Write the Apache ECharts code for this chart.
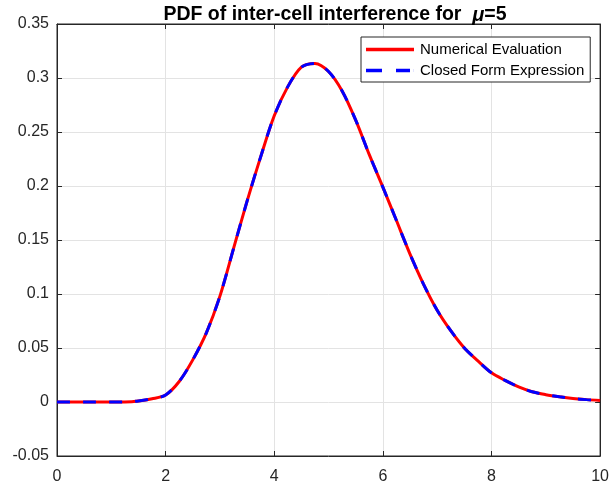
<!DOCTYPE html>
<html>
<head>
<meta charset="utf-8">
<script src="https://cdn.jsdelivr.net/npm/echarts@6/dist/echarts.min.js"></script>
<style>html,body{margin:0;padding:0;background:#fff}#c{width:612px;height:489px}</style>
</head>
<body>
<div id="c"></div>
<script>
const xValues = [0, 0.5, 1, 1.25, 1.5, 1.75, 2, 2.25, 2.5, 2.75, 3, 3.25, 3.5, 3.75, 4, 4.25, 4.5, 4.75, 5, 5.25, 5.5, 5.75, 6, 6.25, 6.5, 6.75, 7, 7.25, 7.5, 7.75, 8, 8.25, 8.5, 8.75, 9, 9.25, 9.5, 9.75, 10];
const numericalY = [0, 0, 0, 0.0001, 0.001, 0.003, 0.0065, 0.019, 0.039, 0.064, 0.098, 0.142, 0.186, 0.227, 0.265, 0.292, 0.310, 0.3135, 0.306, 0.288, 0.261, 0.229, 0.199, 0.168, 0.137, 0.109, 0.085, 0.066, 0.050, 0.038, 0.027, 0.020, 0.014, 0.0095, 0.0068, 0.0048, 0.0032, 0.0022, 0.0015];
const closedFormY = [0, 0, 0, 0.0001, 0.001, 0.003, 0.0065, 0.019, 0.039, 0.064, 0.098, 0.142, 0.186, 0.227, 0.265, 0.292, 0.310, 0.3135, 0.306, 0.288, 0.261, 0.229, 0.199, 0.168, 0.137, 0.109, 0.085, 0.066, 0.050, 0.038, 0.027, 0.020, 0.014, 0.0095, 0.0068, 0.0048, 0.0032, 0.0022, 0.0015];
const seriesNames = ['Numerical Evaluation', 'Closed Form Expression'];

const FONT = '"Liberation Sans", Arial, Helvetica, sans-serif';
const AX = '#262626';
const chart = echarts.init(document.getElementById('c'), null, {renderer: 'canvas'});
const pair = (xs, ys) => xs.map((x, i) => [x, ys[i]]);
const hiddenAxis = {
  axisLine: {show: true, onZero: false, lineStyle: {color: AX, width: 1}},
  axisTick: {show: true, inside: true, length: 5, lineStyle: {color: AX}},
  axisLabel: {show: false},
  splitLine: {show: false}
};
chart.setOption({
  animation: false,
  backgroundColor: '#fff',
  title: {
    text: '{b|PDF of inter-cell interference for  }{i|μ}{b|=5}',
    left: 330, textAlign: 'center', top: 0,
    textStyle: {
      rich: {
        b: {fontFamily: FONT, fontWeight: 'bold', fontSize: 19.5, color: '#000'},
        i: {fontFamily: FONT, fontStyle: 'italic', fontSize: 20, color: '#000'}
      }
    }
  },
  legend: {
    orient: 'vertical', left: 361, top: 37,
    backgroundColor: '#fff', borderColor: AX, borderWidth: 1,
    padding: [5, 6, 4, 5],
    itemWidth: 48, itemHeight: 16, itemGap: 6,
    textStyle: {fontFamily: FONT, fontSize: 15, color: '#000', padding: [0, 0, 0, 1]},
    data: [
      {name: seriesNames[0], icon: 'path://M0,0H48V3.5H0Z', itemStyle: {color: '#ff0000'}},
      {name: seriesNames[1], icon: 'path://M0,0H16V3.5H0Z M30,0H44V3.5H30Z M47.9,0H48V3.5H47.9Z', itemStyle: {color: '#0000ff'}}
    ]
  },
  grid: {left: 57, right: 8, top: 24, bottom: 33, containLabel: false,
    show: true, borderColor: AX, borderWidth: 1, backgroundColor: 'transparent'},
  xAxis: [{
    type: 'value', min: 0, max: 10, interval: 2,
    axisLine: {show: true, onZero: false, lineStyle: {color: AX, width: 1}},
    axisTick: {show: true, inside: true, length: 5, lineStyle: {color: AX}},
    axisLabel: {fontFamily: FONT, fontSize: 16, color: AX, margin: 13},
    splitLine: {show: true, lineStyle: {color: '#e3e3e3', width: 1}}
  }, Object.assign({type: 'value', min: 0, max: 10, interval: 2, position: 'top'}, hiddenAxis)],
  yAxis: [{
    type: 'value', min: -0.05, max: 0.35, interval: 0.05,
    axisLine: {show: true, onZero: false, lineStyle: {color: AX, width: 1}},
    axisTick: {show: true, inside: true, length: 5, lineStyle: {color: AX}},
    axisLabel: {fontFamily: FONT, fontSize: 16, color: AX, margin: 8,
      formatter: v => String(Math.round(v * 100) / 100)},
    splitLine: {show: true, lineStyle: {color: '#e3e3e3', width: 1}}
  }, Object.assign({type: 'value', min: -0.05, max: 0.35, interval: 0.05, position: 'right'}, hiddenAxis)],
  series: [{
    name: seriesNames[0], type: 'line', smooth: 0.3, symbol: 'none',
    xAxisIndex: 0, yAxisIndex: 0,
    lineStyle: {color: '#ff0000', width: 3},
    itemStyle: {color: '#ff0000'},
    data: pair(xValues, numericalY)
  }, {
    name: seriesNames[1], type: 'line', smooth: 0.3, symbol: 'none',
    xAxisIndex: 0, yAxisIndex: 0,
    lineStyle: {color: '#0000ff', width: 3, type: [13, 13]},
    itemStyle: {color: '#0000ff'},
    data: pair(xValues, closedFormY)
  }, {
    name: 'mirror', type: 'line', symbol: 'none', silent: true,
    xAxisIndex: 1, yAxisIndex: 1, data: []
  }]
});
</script>
</body>
</html>
